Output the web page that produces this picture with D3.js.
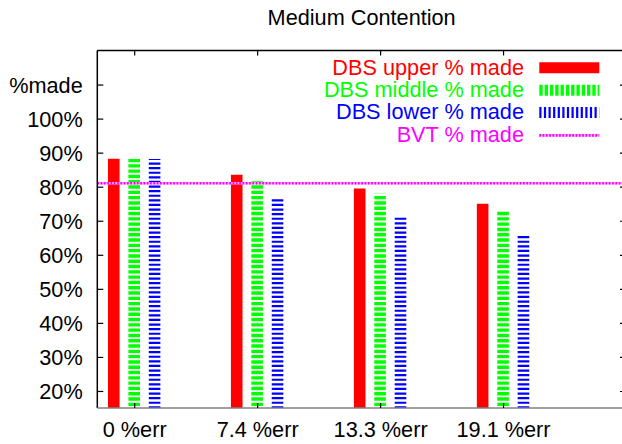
<!DOCTYPE html>
<html>
<head>
<meta charset="utf-8">
<script src="https://cdn.jsdelivr.net/npm/d3@7"></script>
<style>
html,body{margin:0;padding:0;background:#fff;}
svg{display:block;}
text{font-family:"Liberation Sans",Arial,Helvetica,sans-serif;}
</style>
</head>
<body>
<svg id="chart" width="622" height="444"></svg>
<script>
// ---- data ----
const title = "Medium Contention";
const categories = ["0 %err", "7.4 %err", "13.3 %err", "19.1 %err"];
const seriesNames = ["DBS upper % made", "DBS middle % made", "DBS lower % made"];
const upperMade = [88.2, 83.5, 79.5, 75.0];
const middleMade = [88.1, 81.6, 77.9, 72.9];
const lowerMade = [88.1, 77.0, 71.3, 65.8];
const bvtName = "BVT % made";
const bvtMade = 81.0;
const yTickValues = [20, 30, 40, 50, 60, 70, 80, 90, 100, 110];
const yTickLabels = ["20%", "30%", "40%", "50%", "60%", "70%", "80%", "90%", "100%", "%made"];

(function () {
// ---- styles ----
const seriesStyles = [
  {color: "#ff0000", dash: null},
  {color: "#00ff00", dash: "3.4,1.9"},
  {color: "#0000ff", dash: "2.2,2.4"}
];
const bvtColor = "#ff00ff";
const fontSize = 21.7;
const barWidth = 11.6;
const offsets = [-0.166, 0, 0.166];

const svg = d3.select("#chart");
const pL = 97.3, pR = 626, pT = 50.5, pB = 408;

const x = d3.scaleLinear().domain([-0.3, 4]).range([pL, pR]);
const y = d3.scaleLinear().domain([15, 120]).range([pB, pT]);

svg.append("defs").append("clipPath").attr("id", "plotclip")
  .append("rect").attr("x", pL).attr("y", pT)
  .attr("width", pR - pL).attr("height", pB - pT);

const plot = svg.append("g").attr("clip-path", "url(#plotclip)");

// bars (impulses)
const seriesData = [upperMade, middleMade, lowerMade];
seriesData.forEach((vals, si) => {
  const st = seriesStyles[si];
  plot.selectAll(null).data(vals).enter().append("line")
    .attr("x1", (d, i) => x(i + offsets[si]))
    .attr("x2", (d, i) => x(i + offsets[si]))
    .attr("y1", y(0))
    .attr("y2", d => y(d))
    .attr("stroke", st.color)
    .attr("stroke-width", barWidth)
    .attr("stroke-dasharray", st.dash);
});

// BVT line
plot.append("line")
  .attr("x1", pL).attr("x2", pR)
  .attr("y1", y(bvtMade)).attr("y2", y(bvtMade))
  .attr("stroke", "#ffa8ff").attr("stroke-width", 2.6);
plot.append("line")
  .attr("x1", pL).attr("x2", pR)
  .attr("y1", y(bvtMade)).attr("y2", y(bvtMade))
  .attr("stroke", bvtColor).attr("stroke-width", 2.6)
  .attr("stroke-dasharray", "1.7,1.6");

// frame
svg.append("line").attr("x1", pL).attr("x2", pR).attr("y1", pT).attr("y2", pT)
  .attr("stroke", "#000").attr("stroke-width", 1.3);
svg.append("line").attr("x1", pL).attr("x2", pL).attr("y1", pT).attr("y2", pB)
  .attr("stroke", "#000").attr("stroke-width", 1.5);
svg.append("line").attr("x1", pL).attr("x2", pR).attr("y1", pB).attr("y2", pB)
  .attr("stroke", "#808080").attr("stroke-width", 1.5);

// y axis ticks + labels
const yAxis = d3.axisLeft(y).tickValues(yTickValues)
  .tickFormat((d, i) => yTickLabels[i]).tickSizeInner(-6).tickSizeOuter(0).tickPadding(14.6);
const yg = svg.append("g").attr("transform", `translate(${pL},0)`).call(yAxis);
yg.select(".domain").remove();
yg.selectAll(".tick line").attr("stroke", "#000").attr("stroke-width", 1.2);
yg.selectAll(".tick text").attr("font-size", fontSize).attr("fill", "#000")
  .attr("font-family", "Liberation Sans, Arial, sans-serif").attr("dy", "0.36em");

// right mirrored ticks
const yr = d3.axisRight(y).tickValues(yTickValues).tickFormat("").tickSizeInner(-6).tickSizeOuter(0);
const yrg = svg.append("g").attr("transform", `translate(${pR},0)`).call(yr);
yrg.select(".domain").remove();
yrg.selectAll(".tick line").attr("stroke", "#000").attr("stroke-width", 1.2);

// x axis
const xAxis = d3.axisBottom(x).tickValues(d3.range(categories.length))
  .tickFormat((d, i) => categories[i]).tickSizeInner(-5).tickSizeOuter(0).tickPadding(14);
const xg = svg.append("g").attr("transform", `translate(0,${pB})`).call(xAxis);
xg.select(".domain").remove();
xg.selectAll(".tick line").attr("stroke", "#000").attr("stroke-width", 1.2);
xg.selectAll(".tick text").attr("font-size", fontSize).attr("fill", "#000")
  .attr("font-family", "Liberation Sans, Arial, sans-serif");

// top ticks
const xt = d3.axisTop(x).tickValues(d3.range(categories.length)).tickFormat("").tickSizeInner(-5).tickSizeOuter(0);
const xtg = svg.append("g").attr("transform", `translate(0,${pT})`).call(xt);
xtg.select(".domain").remove();
xtg.selectAll(".tick line").attr("stroke", "#000").attr("stroke-width", 1.2);

// title
svg.append("text").attr("x", (pL + pR) / 2).attr("y", 25)
  .attr("text-anchor", "middle").attr("font-size", fontSize).attr("fill", "#000")
  .text(title);

// legend
const legendItems = seriesNames.map((n, i) => ({name: n, color: seriesStyles[i].color, dash: seriesStyles[i].dash, w: barWidth - 0.6}))
  .concat([{name: bvtName, color: bvtColor, dash: "1.7,1.6", w: 2.6, bvt: true}]);
const lg = svg.append("g");
legendItems.forEach((it, i) => {
  const base = 74.5 + i * 22.35;
  lg.append("text").attr("x", 524).attr("y", base).attr("text-anchor", "end")
    .attr("font-size", fontSize).attr("fill", it.color).text(it.name);
  const cy = base - 6.7 + (it.bvt ? 0.5 : 0);
  if (it.bvt) {
    lg.append("line").attr("x1", 539.3).attr("x2", 599.3).attr("y1", cy).attr("y2", cy)
      .attr("stroke", "#ffa8ff").attr("stroke-width", it.w);
  }
  lg.append("line").attr("x1", 539.3).attr("x2", 599.3).attr("y1", cy).attr("y2", cy)
    .attr("stroke", it.color).attr("stroke-width", it.w)
    .attr("stroke-dasharray", it.dash);
});
})();
</script>
</body>
</html>
